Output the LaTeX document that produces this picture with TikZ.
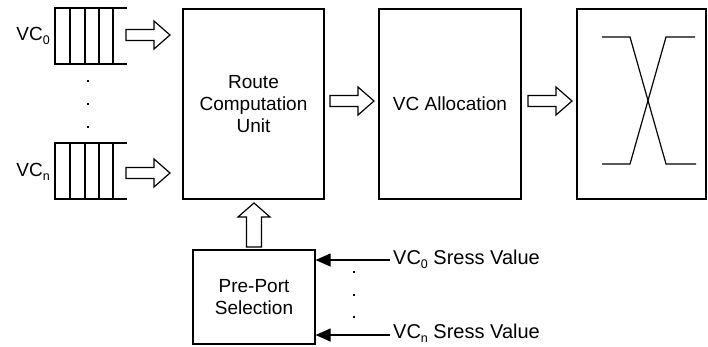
\documentclass[tikz,border=0pt]{standalone}
\usepackage{fontspec}
\setmainfont{Liberation Sans}
\usetikzlibrary{arrows.meta}
\newcommand\sbs[1]{\raisebox{-0.2em}{\fontsize{12.5}{12.5}\selectfont #1}}
\begin{document}
\begin{tikzpicture}[x=1pt,y=-1pt,
  lw/.style={line width=1.2pt},
  blockbox/.style={draw,lw,rectangle,inner sep=0pt,align=center,
    font=\fontsize{19}{22}\selectfont},
  lbl/.style={inner sep=0pt,font=\fontsize{19}{22}\selectfont},
  slbl/.style={inner sep=0pt,font=\fontsize{20}{22}\selectfont},
  dotmark/.style={fill=black,inner sep=0pt,minimum size=2.4pt},
  harrow/.pic={\draw[lw,line join=miter] (0,-5.5) -- (28,-5.5) -- (28,-14) -- (44,0) -- (28,14) -- (28,5.5) -- (0,5.5) -- cycle;},
  uparrow/.pic={\draw[lw,line join=miter] (-7.5,0) -- (-7.5,-30) -- (-16,-30) -- (0,-44) -- (16,-30) -- (7.5,-30) -- (7.5,0) -- cycle;},
  stress/.style={lw,-{Triangle[length=15pt,width=13pt]}}
]
\useasboundingbox (0,0) rectangle (708,346);

% queues
\foreach \n/\yt in {q0/8,qn/143}{
  \draw[lw] (127,\yt) -- (55,\yt) -- (55,\yt+56) -- (127,\yt+56);
  \foreach \xx in {70,85,99,113}{\draw[lw] (\xx,\yt) -- (\xx,\yt+56);}
  \coordinate (\n) at (91,\yt+28);
}
\node[lbl,anchor=east] (l0) at (50,36) {VC\sbs{0}};
\node[lbl,anchor=east] (ln) at (50,172) {VC\sbs{n}};
\foreach \yy in {81,104,127}{\node[dotmark] at (88,\yy) {};}

% blocks
\node[blockbox,minimum width=141pt,minimum height=190pt] (rcu) at (253.5,104) {Route\\Computation\\Unit};
\node[blockbox,minimum width=142pt,minimum height=190pt] (vca) at (450,104) {VC Allocation};
\node[blockbox,minimum width=129pt,minimum height=190pt] (xbar) at (641.5,104) {};
\node[blockbox,minimum width=122pt,minimum height=94pt] (pps) at (254,297) {Pre-Port\\Selection};

% crossbar X
\draw[lw] (602,37) -- (630,37) -- (666,164) -- (696,164);
\draw[lw] (695,37) -- (666,37) -- (630,164) -- (602,164);

% hollow arrows
\pic at (126,35) {harrow};
\pic at (126,173) {harrow};
\pic at (330,101) {harrow};
\pic at (528,101) {harrow};
\pic at (254,247) {uparrow};

% stress inputs
\coordinate (e0) at (390,260);
\coordinate (en) at (390,335);
\node[slbl,anchor=west] (s0) at (393,259) {VC\sbs{0} Sress Value};
\node[slbl,anchor=west] (sn) at (393,333) {VC\sbs{n} Sress Value};
\draw[stress] (e0) -- (pps.east |- e0);
\draw[stress] (en) -- (pps.east |- en);
\foreach \yy in {272,295,317}{\node[dotmark] at (354,\yy) {};}
\end{tikzpicture}
\end{document}
